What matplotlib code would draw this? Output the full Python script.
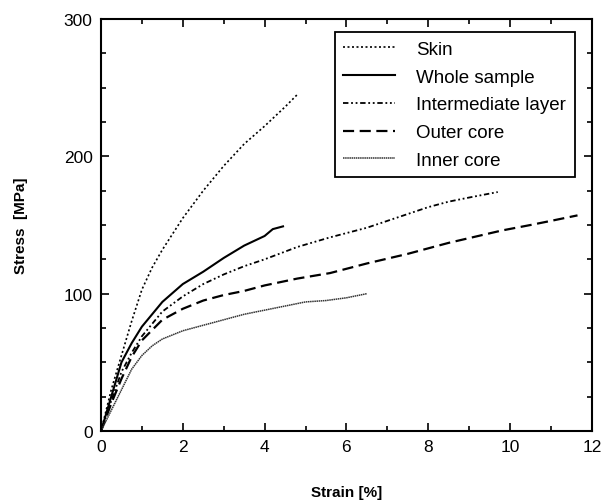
import matplotlib
matplotlib.use("Agg")
import matplotlib.pyplot as plt
from matplotlib.ticker import MultipleLocator

plt.rcParams['font.family'] = ['Liberation Sans', 'DejaVu Sans']

# stress-strain curves, strain in %, stress in MPa
skin_x = [0, 0.25, 0.5, 0.75, 1.0, 1.25, 1.5, 2.0, 2.5, 3.0, 3.5, 4.0, 4.5, 4.8]
skin_y = [0, 30, 55, 80, 103, 119, 132, 155, 175, 193, 209, 222, 236, 245]

whole_x = [0, 0.25, 0.5, 0.75, 1.0, 1.5, 2.0, 2.5, 3.0, 3.5, 4.0, 4.2, 4.45]
whole_y = [0, 25, 50, 64, 76, 94, 107, 116, 126, 135, 142, 147, 149]

inter_x = [0, 0.25, 0.5, 0.75, 1.0, 1.5, 2.0, 2.5, 3.0, 3.5, 4.0, 4.8, 5.6, 6.5, 7.0, 7.5, 8.0, 8.5, 9.0, 9.7]
inter_y = [0, 22, 43, 57, 69, 87, 98, 107, 114, 120, 125, 134, 141, 148, 153, 158, 163, 167, 170, 174]

outer_x = [0, 0.25, 0.5, 0.75, 1.0, 1.5, 2.0, 2.5, 3.0, 3.5, 4.0, 4.8, 5.6, 6.5, 7.5, 8.5, 9.8, 10.5, 11.0, 11.65]
outer_y = [0, 20, 38, 54, 66, 81, 89, 95, 99, 102, 106, 111, 115, 122, 129, 137, 146, 150, 153, 157]

inner_x = [0, 0.25, 0.5, 0.75, 1.0, 1.25, 1.5, 2.0, 2.5, 3.0, 3.5, 4.0, 4.5, 5.0, 5.5, 6.0, 6.5]
inner_y = [0, 15, 30, 45, 55, 62, 67, 73, 77, 81, 85, 88, 91, 94, 95, 97, 100]

fig = plt.figure(figsize=(6.07, 5.02), dpi=100)
ax = fig.add_axes([0.1664, 0.1394, 0.8086, 0.8208])

ax.plot(skin_x, skin_y, color='black', lw=1.2, ls=(0, (1.2, 1.5)), label='Skin')
ax.plot(whole_x, whole_y, color='black', lw=1.5, ls='-', label='Whole sample')
ax.plot(inter_x, inter_y, color='black', lw=1.3, ls=(0, (3, 1.5, 1, 1.5, 1, 1.5)), label='Intermediate layer')
ax.plot(outer_x, outer_y, color='black', lw=1.6, ls=(0, (5, 2.5)), label='Outer core')
ax.plot(inner_x, inner_y, color='#333333', lw=1.1, ls=(0, (1, 0.4)), label='Inner core')

ax.set_xlim(0, 12)
ax.set_ylim(0, 300)
ax.xaxis.set_major_locator(MultipleLocator(2))
ax.xaxis.set_minor_locator(MultipleLocator(1))
ax.yaxis.set_major_locator(MultipleLocator(100))
ax.yaxis.set_minor_locator(MultipleLocator(25))
ax.tick_params(which='both', direction='in', top=True, right=True, width=1.2, labelsize=12.5)
ax.tick_params(which='major', length=6, pad=6)
ax.tick_params(which='minor', length=3.5)
for s in ax.spines.values():
    s.set_linewidth(1.5)

ax.set_xlabel('Strain [%]', fontsize=11, fontweight='bold', labelpad=22)
ax.set_ylabel('Stress  [MPa]', fontsize=11, fontweight='bold', labelpad=26)

leg = ax.legend(loc='upper right', bbox_to_anchor=(0.965, 0.968), borderaxespad=0,
                fontsize=13.5, handlelength=2.75, handletextpad=1.15, labelspacing=0.57,
                borderpad=0.45, fancybox=False, framealpha=1, edgecolor='black')
leg.get_frame().set_linewidth(1.3)

fig.savefig('out.png', dpi=100)
